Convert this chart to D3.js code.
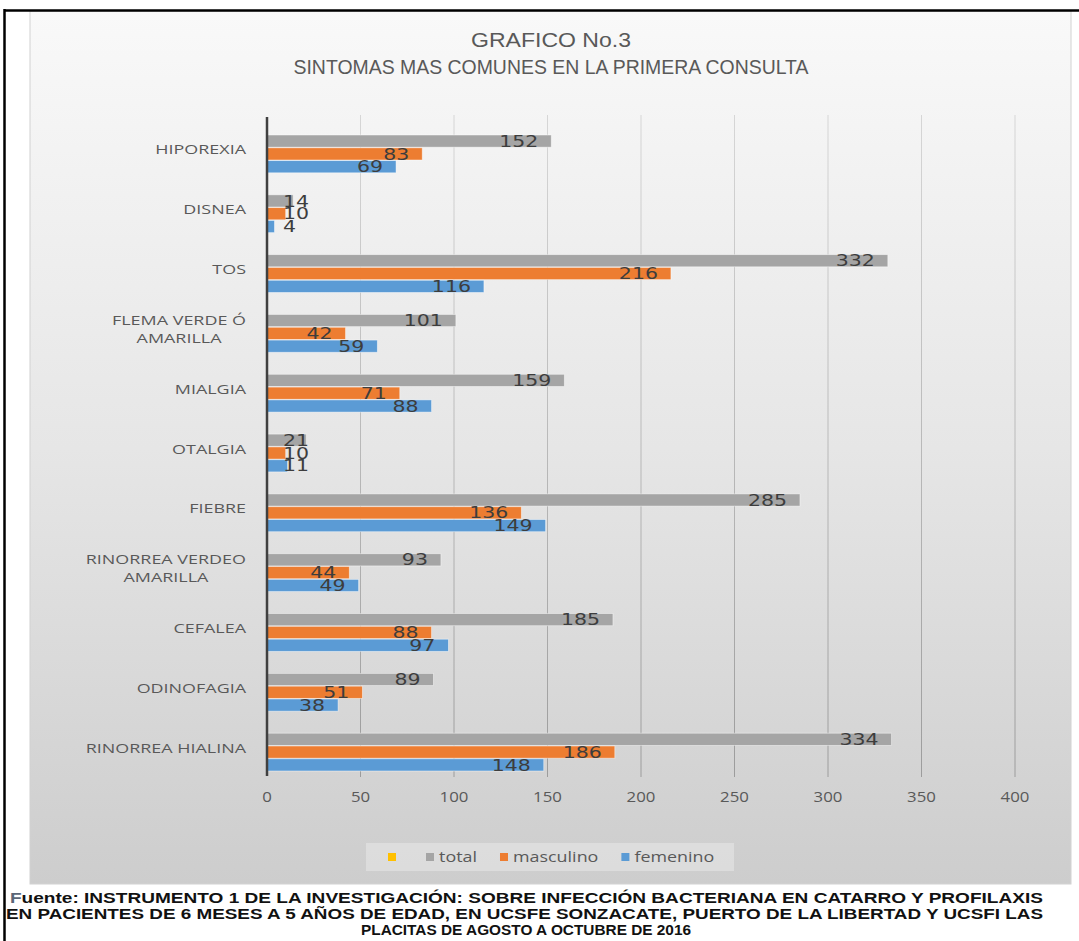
<!DOCTYPE html>
<html><head><meta charset="utf-8">
<script src="https://cdn.jsdelivr.net/npm/d3@7"></script>
<style>html,body{margin:0;padding:0;background:#fff;}svg{display:block;}</style>
</head><body>
<svg id="c" width="1079" height="941"></svg>
<script>
const categories = ["HIPOREXIA","DISNEA","TOS","FLEMA VERDE Ó\nAMARILLA","MIALGIA","OTALGIA","FIEBRE","RINORREA VERDEO\nAMARILLA","CEFALEA","ODINOFAGIA","RINORREA HIALINA"];
const seriesNames = ["total","masculino","femenino"];
const total     = [152,14,332,101,159,21,285,93,185,89,334];
const masculino = [83,10,216,42,71,10,136,44,88,51,186];
const femenino  = [69,4,116,59,88,11,149,49,97,38,148];
const xTicks = [0,50,100,150,200,250,300,350,400];
const legendNames = ["","total","masculino","femenino"];
const titleLines = ["GRAFICO No.3","SINTOMAS MAS COMUNES EN LA PRIMERA CONSULTA"];
const sourceLines = ["uente: INSTRUMENTO 1 DE LA INVESTIGACIÓN: SOBRE INFECCIÓN BACTERIANA EN CATARRO Y PROFILAXIS",
  "EN PACIENTES DE 6 MESES A 5 AÑOS DE EDAD, EN UCSFE SONZACATE, PUERTO DE LA LIBERTAD Y UCSFI LAS",
  "PLACITAS DE AGOSTO A OCTUBRE DE 2016"];

const colors = {total:"#A5A5A5", masculino:"#ED7D31", femenino:"#5B9BD5", "":"#FFC000"};
const values = {total, masculino, femenino};

const svg = d3.select("#c");
const defs = svg.append("defs");
const bg = defs.append("linearGradient").attr("id","bg").attr("x1",0).attr("y1",0).attr("x2",0).attr("y2",1);
bg.append("stop").attr("offset","0").attr("stop-color","#f9f9f9");
bg.append("stop").attr("offset","0.5").attr("stop-color","#e6e6e6");
bg.append("stop").attr("offset","1").attr("stop-color","#cdcdcd");
const gg = defs.append("linearGradient").attr("id","gl").attr("gradientUnits","userSpaceOnUse")
  .attr("x1",0).attr("y1",115).attr("x2",0).attr("y2",777);
gg.append("stop").attr("offset","0").attr("stop-color","#d6d6d6");
gg.append("stop").attr("offset","1").attr("stop-color","#9c9c9c");

// panel
svg.append("rect").attr("x",30).attr("y",11).attr("width",1041).attr("height",873)
  .attr("fill","url(#bg)").attr("stroke","#d2d2d2").attr("stroke-width",1);
// outer border
svg.append("line").attr("x1",4).attr("x2",1079).attr("y1",10.5).attr("y2",10.5).attr("stroke","#000").attr("stroke-width",2.5);
svg.append("line").attr("x1",4.5).attr("x2",4.5).attr("y1",9).attr("y2",941).attr("stroke","#000").attr("stroke-width",2.5);

function stext(parent, x, y, str, o) {
  const g = parent.append("g").attr("transform",`translate(${x},${y})`);
  const t = g.append("text").attr("transform",`scale(${o.sx||1},1)`)
    .attr("text-anchor",o.anchor||"start").attr("dy",o.dy||"0.35em")
    .attr("font-family",o.family||"Open Sans").attr("font-size",o.size||13)
    .attr("font-weight",o.weight||"normal").attr("fill",o.fill||"#595959")
    .attr("letter-spacing",o.ls||0).text(str);
  return {g,t,w:t.node().getComputedTextLength()*(o.sx||1)};
}

// scales
const x = d3.scaleLinear().domain([0,400]).range([267,1015]);
const y = d3.scaleBand().domain(categories).range([124,782]).paddingInner(0.368).paddingOuter(0.184);
const ys = d3.scaleBand().domain(seriesNames).range([0,y.bandwidth()]).paddingInner(0.05);

// gridlines
svg.append("g").selectAll("line").data(xTicks.slice(1)).join("line")
  .attr("x1",d=>x(d)).attr("x2",d=>x(d)).attr("y1",115).attr("y2",777)
  .attr("stroke","url(#gl)").attr("stroke-width",1);

// bars
const bars = svg.append("g");
categories.forEach((c,i)=>{
  seriesNames.forEach(s=>{
    bars.append("rect").attr("x",x(0)).attr("y",y(c)+ys(s))
      .attr("width",x(values[s][i])-x(0)).attr("height",ys.bandwidth())
      .attr("fill",colors[s]).attr("stroke","#ffffff").attr("stroke-opacity",0.55).attr("stroke-width",0.8);
  });
});
// axis line
svg.append("line").attr("x1",x(0)).attr("x2",x(0)).attr("y1",117).attr("y2",776)
  .attr("stroke","#404040").attr("stroke-width",2.5);

// data labels
const lab = svg.append("g");
categories.forEach((c,i)=>{
  seriesNames.forEach(s=>{
    const v = values[s][i];
    const cy = y(c)+ys(s)+ys.bandwidth()/2;
    const tmp = stext(lab,0,cy,String(v),{family:"DejaVu Sans",size:16,sx:1.28,anchor:"end",fill:"#3d3d3d"});
    const right = Math.max(x(v)-13, x(0)+16+tmp.w);
    tmp.g.attr("transform",`translate(${right},${cy})`);
  });
});

// category labels
const cl = svg.append("g");
categories.forEach(c=>{
  const lines = c.split("\n");
  const cy = y(c)+y.bandwidth()/2 - 4;
  const lh = 17.5;
  const y0 = cy - (lines.length-1)*lh/2;
  const items = lines.map((l,k)=>stext(cl,0,y0+k*lh,l,{size:13,sx:1.38,anchor:"middle",fill:"#595959"}));
  const maxW = d3.max(items,d=>d.w);
  items.forEach((it,k)=>it.g.attr("transform",`translate(${246-maxW/2},${y0+k*lh})`));
});

// tick labels
const tl = svg.append("g");
xTicks.forEach(t=>stext(tl,x(t),797,String(t),{size:14,sx:1.2,anchor:"middle",fill:"#595959"}));

// title
titleLines.forEach((l,k)=>{
  svg.append("text").attr("x",551).attr("y",[40,67][k]).attr("dy","0.35em").attr("text-anchor","middle")
    .attr("font-family","Liberation Sans").attr("font-size",21).attr("fill","#595959")
    .attr("textLength",[160,515][k]).attr("lengthAdjust","spacingAndGlyphs").text(l);
});

// legend
const lg = svg.append("g");
lg.append("rect").attr("x",366).attr("y",843).attr("width",368).attr("height",28).attr("fill","#e2e2e2").attr("fill-opacity",0.7);
let lx = 388;
legendNames.forEach(n=>{
  lg.append("rect").attr("x",lx).attr("y",853).attr("width",8).attr("height",8).attr("fill",colors[n]);
  const it = stext(lg,lx+13,857,n,{size:14,sx:1.28,fill:"#595959"});
  lx = lx + 13 + (n ? it.w + 23 : 25);
});

// source
sourceLines.forEach((l,k)=>{
  const ty = [898,914,930][k];
  const t = svg.append("text").attr("y",ty).attr("dy","0.35em")
    .attr("font-family","Liberation Sans").attr("font-weight","bold").attr("font-size",14.5).attr("fill","#111")
    .attr("lengthAdjust","spacingAndGlyphs");
  if (k===0) {
    t.attr("x",10).attr("textLength",1033);
    t.append("tspan").attr("fill","#5a6677").text("F");
    t.append("tspan").text(l);
  } else if (k===1) {
    t.attr("x",6).attr("textLength",1037).text(l);
  } else {
    t.attr("x",526).attr("text-anchor","middle").attr("textLength",330).text(l);
  }
});
</script>
</body></html>
